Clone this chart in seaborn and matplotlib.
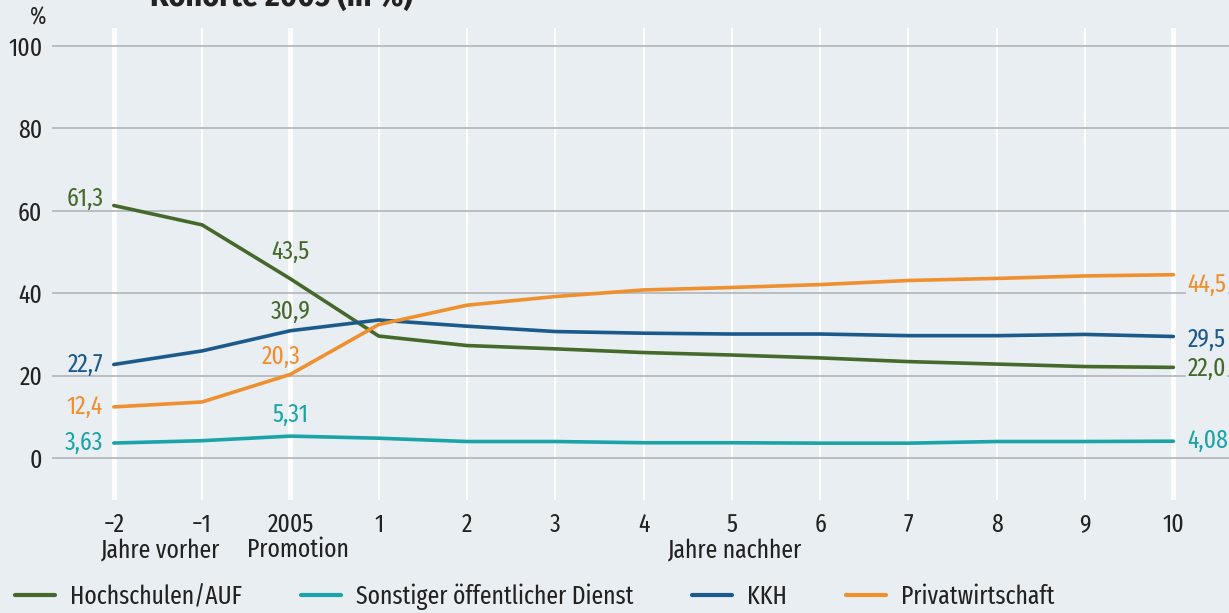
import matplotlib
matplotlib.use("Agg")
import matplotlib.pyplot as plt
import numpy as np
import pandas as pd
import seaborn as sns

# ── data ────────────────────────────────────────────────────────────────────
tick_labels = ["\u22122", "\u22121", "2005", "1", "2", "3", "4", "5", "6", "7", "8", "9", "10"]
sector_names = ["Hochschulen/AUF", "Sonstiger öffentlicher Dienst", "KKH", "Privatwirtschaft"]
hochschulen = [61.3, 56.6, 43.5, 29.6, 27.3, 26.5, 25.6, 25.0, 24.3, 23.4, 22.8, 22.2, 22.0]
sonstiger = [3.63, 4.2, 5.31, 4.8, 4.0, 4.0, 3.7, 3.7, 3.6, 3.6, 4.0, 4.0, 4.08]
kkh = [22.7, 26.0, 30.9, 33.5, 32.0, 30.7, 30.3, 30.1, 30.1, 29.7, 29.7, 30.0, 29.5]
privat = [12.4, 13.6, 20.3, 32.4, 37.1, 39.2, 40.8, 41.4, 42.1, 43.1, 43.6, 44.2, 44.5]

# value labels: (series, index, text)
value_labels = [
    ("Hochschulen/AUF", 0, "61,3"), ("KKH", 0, "22,7"),
    ("Privatwirtschaft", 0, "12,4"), ("Sonstiger öffentlicher Dienst", 0, "3,63"),
    ("Hochschulen/AUF", 2, "43,5"), ("KKH", 2, "30,9"),
    ("Privatwirtschaft", 2, "20,3"), ("Sonstiger öffentlicher Dienst", 2, "5,31"),
    ("Privatwirtschaft", 12, "44,5"), ("KKH", 12, "29,5"),
    ("Hochschulen/AUF", 12, "22,0"), ("Sonstiger öffentlicher Dienst", 12, "4,08"),
]

BG = "#e9eef2"
FS = 18.5
palette = {
    "Hochschulen/AUF": "#45692b",
    "Sonstiger öffentlicher Dienst": "#1ba4a7",
    "KKH": "#1c5a8b",
    "Privatwirtschaft": "#ef902f",
}

pos = np.arange(len(tick_labels))
df = pd.DataFrame({
    "pos": np.tile(pos, 4),
    "sector": np.repeat(sector_names, len(pos)),
    "value": hochschulen + sonstiger + kkh + privat,
})

sns.set_theme(style="white")
plt.rcParams["font.family"] = ["Fira Sans Extra Condensed", "DejaVu Sans"]
plt.rcParams["text.color"] = "#222222"

fig = plt.figure(figsize=(12.29, 6.13), dpi=100, facecolor=BG)
ax = fig.add_axes([52 / 1229, 1 - 500 / 613, 1 - 52 / 1229, (500 - 28) / 613])
ax.set_facecolor(BG)

# white vertical guides, thicker at -2, 2005 and 10
for p in pos:
    lw = 3.5 if p in (0, 2, 12) else 1.5
    ax.axvline(p, color="white", lw=lw, zorder=1)
for yv in range(0, 101, 20):
    ax.axhline(yv, color="#b5b9bd", lw=1.3, zorder=2)

sns.lineplot(data=df, x="pos", y="value", hue="sector", palette=palette,
             hue_order=sector_names, lw=2.6, ax=ax, legend=False, zorder=3)

ax.set_xlim(-0.70, 12.63)
ax.set_ylim(-10.2, 104.4)
ax.set_xticks(pos)
ax.set_xticklabels(tick_labels)
ax.set_yticks(range(0, 101, 20))
ax.tick_params(axis="both", length=0, labelsize=FS, colors="#222222")
ax.tick_params(axis="x", pad=9)
ax.tick_params(axis="y", pad=7)
ax.set_xlabel("")
ax.set_ylabel("")
for s in ax.spines.values():
    s.set_visible(False)

series = dict(zip(sector_names, [hochschulen, sonstiger, kkh, privat]))
box = dict(boxstyle="square,pad=0.05", fc=BG, ec="none")
for name, i, txt in value_labels:
    v = series[name][i]
    color = palette["Hochschulen/AUF"] if txt == "30,9" else palette[name]
    if i == 0:
        dy = 1.6 if txt == "61,3" else 0.0
        ax.text(-0.12, v + dy, txt, ha="right", va="center", fontsize=FS,
                color=color, zorder=4)
    elif i == 2:
        dx = -0.1 if txt == "20,3" else 0.0
        dy = {"43,5": 6.6, "30,9": 4.6, "20,3": 4.2, "5,31": 5.1}[txt]
        ax.text(2 + dx, v + dy, txt, ha="center", va="center", fontsize=FS,
                color=color, zorder=4)
    else:
        dy = {"44,5": -2.4, "29,5": -0.8, "22,0": -0.3, "4,08": 0.0}[txt]
        ax.text(12.16, v + dy, txt, ha="left", va="center", fontsize=FS,
                color=color, zorder=4, bbox=box)

# second row of x labels
for x_px, txt in [(160, "Jahre vorher"), (298, "Promotion"), (734, "Jahre nachher")]:
    fig.text(x_px / 1229, 1 - 550 / 613, txt, ha="center", va="center", fontsize=FS)

fig.text(38 / 1229, 1 - 18 / 613, "%", ha="center", va="center", fontsize=17)
# title is cut off at the top edge in the reference
fig.text(150 / 1229, 1.006, "Kohorte 2005 (in %)", ha="left", va="center",
         fontsize=23, fontweight="bold", family=["Fira Sans Condensed", "DejaVu Sans"])

handles = [plt.Line2D([], [], color=palette[n], lw=3) for n in sector_names]
fig.legend(handles, sector_names, loc="center left", ncol=4,
           bbox_to_anchor=(15 / 1229, 1 - 597 / 613), frameon=False, fontsize=FS,
           borderpad=0, borderaxespad=0,
           handlelength=1.55, handletextpad=0.58, columnspacing=2.3)

fig.savefig("out.png", dpi=100, facecolor=BG)
